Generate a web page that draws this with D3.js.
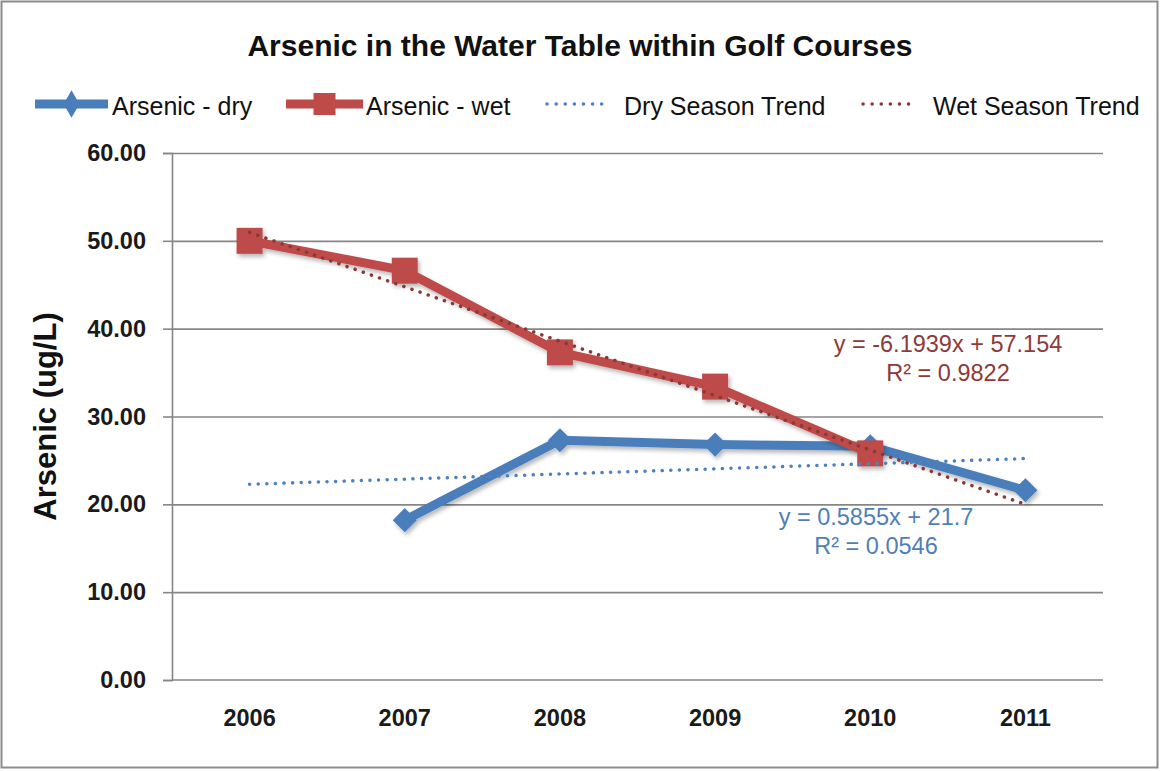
<!DOCTYPE html>
<html>
<head>
<meta charset="utf-8">
<script src="https://cdn.jsdelivr.net/npm/d3@7"></script>
<style>
  html, body { margin: 0; padding: 0; background: #ffffff; }
  svg { display: block; font-family: "Liberation Sans", Arial, sans-serif; }
</style>
</head>
<body>
<svg id="chart" width="1160" height="771"></svg>
<script>
// ---- data ----
const years = ["2006", "2007", "2008", "2009", "2010", "2011"];
const dryValues = [null, 18.2, 27.3, 26.8, 26.6, 21.6];
const wetValues = [50.0, 46.6, 37.3, 33.4, 25.8, null];
const yTicks = [0, 10, 20, 30, 40, 50, 60];
const seriesNames = ["Arsenic - dry", "Arsenic - wet"];
const trendNames = ["Dry Season Trend", "Wet Season Trend"];
const trendSlopes = [0.5855, -6.1939];
const trendIntercepts = [21.7, 57.154];
const trendEquations = ["y = 0.5855x + 21.7", "y = -6.1939x + 57.154"];
const trendR2 = ["R² = 0.0546", "R² = 0.9822"];
const chartTitle = "Arsenic in the Water Table within Golf Courses";
const yAxisTitle = "Arsenic (ug/L)";

// ---- layout ----
const W = 1160, H = 771;
const margin = { top: 153, right: 57, bottom: 91, left: 172 };
const pw = W - margin.left - margin.right;
const ph = H - margin.top - margin.bottom;
const dryColor = "#4a7ebb", wetColor = "#be4b48";
const dryTrendColor = "#4f81bd", wetTrendColor = "#8c3836";
const dryLabelColor = "#4f7fb8", wetLabelColor = "#8e3a38";
const gridColor = "#868686";

const svg = d3.select("#chart");
const defs = svg.append("defs");
const f = defs.append("filter").attr("id", "shadow").attr("x", "-20%").attr("y", "-20%").attr("width", "140%").attr("height", "140%");
f.append("feDropShadow").attr("dx", 2).attr("dy", 3).attr("stdDeviation", 2)
  .attr("flood-color", "#000").attr("flood-opacity", 0.28);

svg.append("rect").attr("x", 1.5).attr("y", 1.5).attr("width", W - 4).attr("height", H - 5)
  .attr("fill", "#fff").attr("stroke", "#8c8c8c").attr("stroke-width", 2);

const g = svg.append("g").attr("transform", `translate(${margin.left},${margin.top})`);

const xBand = d3.scaleBand().domain(years).range([0, pw]).padding(0);
const xc = d => xBand(d) + xBand.bandwidth() / 2;
const y = d3.scaleLinear().domain([0, 60]).range([ph, 0]);

// gridlines
g.append("g").attr("class", "grid")
  .call(d3.axisLeft(y).tickValues(yTicks.filter(v => v > 0)).tickSize(-pw).tickFormat(""))
  .call(s => s.select(".domain").remove())
  .call(s => s.selectAll("line").attr("stroke", gridColor).attr("stroke-width", 1.6));

// y axis
g.append("g")
  .call(d3.axisLeft(y).tickValues(yTicks).tickFormat(d3.format(".2f")).tickSize(9).tickPadding(17))
  .call(s => s.select(".domain").attr("stroke", gridColor).attr("stroke-width", 1.6))
  .call(s => s.selectAll("line").attr("stroke", gridColor).attr("stroke-width", 1.6))
  .call(s => s.selectAll("text").attr("font-size", 23.5).attr("font-weight", "bold")
    .attr("fill", "#1a1a1a").attr("font-family", "'Liberation Sans', Arial, sans-serif"));

// x axis
const xAxisG = g.append("g").attr("transform", `translate(0,${ph})`);
xAxisG.append("line").attr("x1", 0).attr("x2", pw).attr("y1", 0).attr("y2", 0)
  .attr("stroke", gridColor).attr("stroke-width", 1.6);
const edges = years.map(d => xBand(d)).concat([xBand.range()[1]]);
xAxisG.selectAll("line.tick").data(edges).join("line").attr("class", "tick")
  .attr("x1", d => d).attr("x2", d => d).attr("y1", 0).attr("y2", 9)
  .attr("stroke", gridColor).attr("stroke-width", 1.6);
xAxisG.call(d3.axisBottom(xBand).tickSize(0).tickPadding(29))
  .call(s => s.select(".domain").remove())
  .call(s => s.selectAll("text").attr("font-size", 23.5).attr("font-weight", "bold")
    .attr("fill", "#1a1a1a").attr("font-family", "'Liberation Sans', Arial, sans-serif"));

// series
const lineGen = d3.line().defined(d => d.v != null).x(d => xc(d.year)).y(d => y(d.v));
const dryData = years.map((yr, i) => ({ year: yr, v: dryValues[i] }));
const wetData = years.map((yr, i) => ({ year: yr, v: wetValues[i] }));

const diamond = d3.symbol().type(d3.symbolSquare).size(290);
const dryG = g.append("g").attr("filter", "url(#shadow)");
dryG.append("path").datum(dryData).attr("d", lineGen).attr("fill", "none")
  .attr("stroke", dryColor).attr("stroke-width", 9).attr("stroke-linejoin", "round");
dryG.selectAll("path.m").data(dryData.filter(d => d.v != null)).join("path").attr("class", "m")
  .attr("d", diamond).attr("transform", d => `translate(${xc(d.year)},${y(d.v)}) rotate(45)`).attr("fill", dryColor);

const wetG = g.append("g").attr("filter", "url(#shadow)");
wetG.append("path").datum(wetData).attr("d", lineGen).attr("fill", "none")
  .attr("stroke", wetColor).attr("stroke-width", 9).attr("stroke-linejoin", "round");
const sq = 26;
wetG.selectAll("rect.m").data(wetData.filter(d => d.v != null)).join("rect").attr("class", "m")
  .attr("x", d => xc(d.year) - sq / 2).attr("y", d => y(d.v) - sq / 2)
  .attr("width", sq).attr("height", sq).attr("fill", wetColor);

// trendlines (linear, x = 1..6 for categories)
const trendColors = [dryTrendColor, wetTrendColor];
trendSlopes.forEach((m, k) => {
  const pts = [years[0], years[years.length - 1]].map(yr => {
    const xi = years.indexOf(yr) + 1;
    return [xc(yr), y(m * xi + trendIntercepts[k])];
  });
  g.append("path").attr("d", d3.line()(pts)).attr("fill", "none")
    .attr("stroke", trendColors[k]).attr("stroke-width", 3.5)
    .attr("stroke-dasharray", "0.1 8.5").attr("stroke-linecap", "round");
});

// trend labels
const labelColors = [dryLabelColor, wetLabelColor];
const labelPos = [[876 - margin.left, 525 - margin.top], [948 - margin.left, 352 - margin.top]];
[0, 1].forEach(k => {
  const t = g.append("text").attr("text-anchor", "middle").attr("font-size", 23.5)
    .attr("fill", labelColors[k]);
  t.append("tspan").attr("x", labelPos[k][0]).attr("y", labelPos[k][1]).text(trendEquations[k]);
  t.append("tspan").attr("x", labelPos[k][0]).attr("y", labelPos[k][1] + 29).text(trendR2[k]);
});

// title
svg.append("text").attr("x", 580).attr("y", 56).attr("text-anchor", "middle")
  .attr("font-size", 30).attr("font-weight", "bold").attr("fill", "#111").text(chartTitle);

// y-axis title
svg.append("text").attr("transform", `translate(56,${margin.top + ph / 2}) rotate(-90)`)
  .attr("text-anchor", "middle").attr("font-size", 31).attr("font-weight", "bold")
  .attr("fill", "#111").text(yAxisTitle);

// legend
const leg = svg.append("g");
const ly = 104, lb = 115;
// dry series
leg.append("line").attr("x1", 35).attr("x2", 108).attr("y1", ly).attr("y2", ly)
  .attr("stroke", dryColor).attr("stroke-width", 9);
leg.append("path").attr("d", d3.symbol().type(d3.symbolDiamond).size(220))
  .attr("transform", `translate(71.5,${ly})`).attr("fill", dryColor);
leg.append("text").attr("x", 112).attr("y", lb).attr("font-size", 25).attr("fill", "#111").text(seriesNames[0]);
// wet series
leg.append("line").attr("x1", 286).attr("x2", 363).attr("y1", ly).attr("y2", ly)
  .attr("stroke", wetColor).attr("stroke-width", 9);
leg.append("rect").attr("x", 324.5 - 11).attr("y", ly - 11).attr("width", 22).attr("height", 22).attr("fill", wetColor);
leg.append("text").attr("x", 366).attr("y", lb).attr("font-size", 25).attr("fill", "#111").text(seriesNames[1]);
// trends
leg.append("line").attr("x1", 547).attr("x2", 610).attr("y1", ly).attr("y2", ly)
  .attr("stroke", dryTrendColor).attr("stroke-width", 3.5).attr("stroke-dasharray", "0.1 9").attr("stroke-linecap", "round");
leg.append("text").attr("x", 624).attr("y", lb).attr("font-size", 25).attr("fill", "#111").text(trendNames[0]);
leg.append("line").attr("x1", 863).attr("x2", 917).attr("y1", ly).attr("y2", ly)
  .attr("stroke", wetTrendColor).attr("stroke-width", 3.5).attr("stroke-dasharray", "0.1 9").attr("stroke-linecap", "round");
leg.append("text").attr("x", 933).attr("y", lb).attr("font-size", 25).attr("fill", "#111").text(trendNames[1]);
</script>
</body>
</html>
